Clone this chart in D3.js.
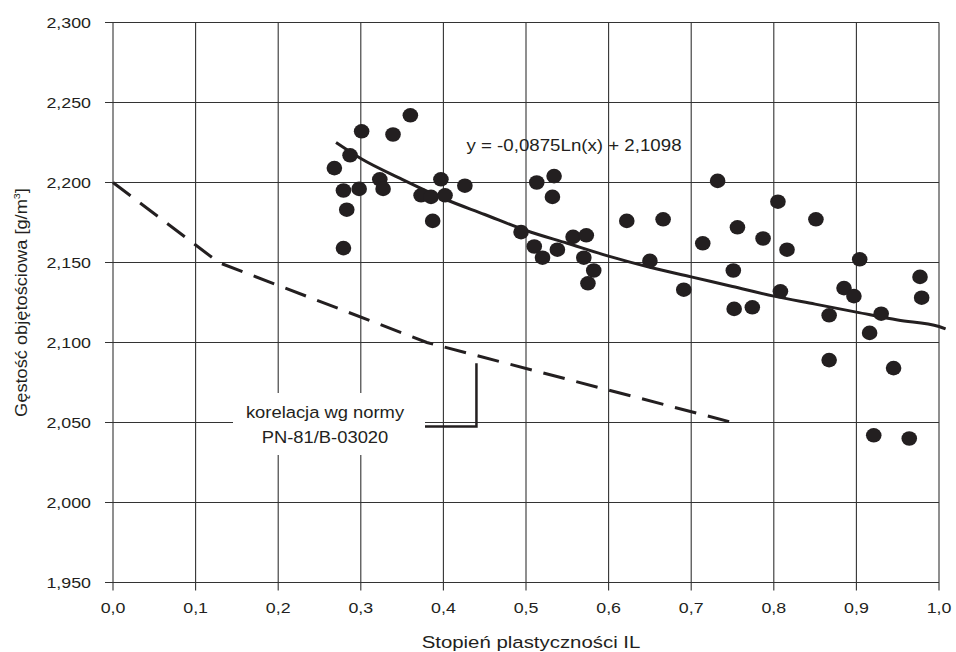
<!DOCTYPE html>
<html>
<head>
<meta charset="utf-8">
<script src="https://cdn.jsdelivr.net/npm/d3@7"></script>
<style>
  body { margin: 0; background: #fff; }
  text { font-family: "Liberation Sans", Arial, sans-serif; fill: #231f20; }
</style>
</head>
<body>
<svg id="viz" width="956" height="652"></svg>
<script>
const svg = d3.select("#viz");
const width = +svg.attr("width");
const height = +svg.attr("height");
const margin = { top: 22.5, right: 17, bottom: 69.5, left: 113 };

// measured points: plasticity index IL vs bulk density
const ilValues = [0.360, 0.301, 0.339, 0.287, 0.268, 0.279, 0.298, 0.323, 0.327, 0.283,
  0.279, 0.373, 0.385, 0.387, 0.397, 0.402, 0.426, 0.513, 0.534, 0.532,
  0.494, 0.510, 0.520, 0.538, 0.557, 0.573, 0.570, 0.582, 0.575, 0.622,
  0.666, 0.650, 0.714, 0.691, 0.732, 0.805, 0.756, 0.787, 0.816, 0.851,
  0.751, 0.752, 0.774, 0.808, 0.867, 0.904, 0.885, 0.897, 0.930, 0.916,
  0.977, 0.979, 0.867, 0.945, 0.921, 0.964];
const densityValues = [2.242, 2.232, 2.230, 2.217, 2.209, 2.195, 2.196, 2.202, 2.196, 2.183,
  2.159, 2.192, 2.191, 2.176, 2.202, 2.192, 2.198, 2.200, 2.204, 2.191,
  2.169, 2.160, 2.153, 2.158, 2.166, 2.167, 2.153, 2.145, 2.137, 2.176,
  2.177, 2.151, 2.162, 2.133, 2.201, 2.188, 2.172, 2.165, 2.158, 2.177,
  2.145, 2.121, 2.122, 2.132, 2.117, 2.152, 2.134, 2.129, 2.118, 2.106,
  2.141, 2.128, 2.089, 2.084, 2.042, 2.040];

// logarithmic trend line
const trendX = [0.27, 0.30, 0.35, 0.40, 0.45, 0.50, 0.55, 0.60, 0.65, 0.70, 0.75, 0.80, 0.85, 0.90, 0.95, 1.00, 1.008];
const trendY = [2.225, 2.215, 2.202, 2.190, 2.180, 2.170, 2.162, 2.154, 2.147, 2.141, 2.135, 2.129, 2.124, 2.119, 2.114, 2.110, 2.1085];

// norm correlation PN-81/B-03020
const normX = [0.0, 0.128, 0.38, 0.75];
const normY = [2.200, 2.150, 2.100, 2.050];

const xTicks = [0, 0.1, 0.2, 0.3, 0.4, 0.5, 0.6, 0.7, 0.8, 0.9, 1.0];
const yTicks = [1.95, 2.0, 2.05, 2.1, 2.15, 2.2, 2.25, 2.3];

const ink = "#231f20";
const comma = s => s.replace(".", ",");

const x = d3.scaleLinear().domain([0, 1]).range([margin.left, width - margin.right]);
const y = d3.scaleLinear().domain([1.95, 2.3]).range([height - margin.bottom, margin.top]);

// the source font runs a bit wider than Arial, so stretch the text along its line
function label(px, py, txt, size, sx, anchor) {
  return svg.append("text")
    .attr("transform", `translate(${px},${py}) scale(${sx},1)`)
    .attr("text-anchor", anchor || "middle")
    .attr("font-size", size + "px")
    .text(txt);
}

// grid
svg.append("g")
  .selectAll("line")
  .data(yTicks)
  .join("line")
  .attr("x1", x(0) - 8).attr("x2", x(1))
  .attr("y1", d => y(d)).attr("y2", d => y(d))
  .attr("stroke", "#333").attr("stroke-width", 1.1);

svg.append("g")
  .selectAll("line")
  .data(xTicks)
  .join("line")
  .attr("x1", d => x(d)).attr("x2", d => x(d))
  .attr("y1", y(2.3)).attr("y2", y(1.95) + 8)
  .attr("stroke", "#333").attr("stroke-width", 1.1);

// tick labels
yTicks.forEach(d => label(x(0) - 22, y(d) + 5.5, comma(d3.format(".3f")(d)), 15.5, 1.15, "end"));
xTicks.forEach(d => label(x(d), y(1.95) + 30, comma(d3.format(".1f")(d)), 15.5, 1.15));

// axis titles
label(531, 648, "Stopień plastyczności IL", 17, 1.2);

const yTitle = svg.append("text")
  .attr("transform", `translate(27,${(y(1.95) + y(2.3)) / 2}) rotate(-90) scale(1.14,1)`)
  .attr("text-anchor", "middle")
  .attr("font-size", "16px");
yTitle.append("tspan").text("Gęstość objętościowa [g/m");
yTitle.append("tspan").attr("font-size", "9.5px").attr("dy", -7).text("3");
yTitle.append("tspan").attr("dy", 7).text("]");

// norm line (dashed)
const normData = normX.map((v, i) => ({ x: v, y: normY[i] }));
svg.append("path")
  .datum(normData)
  .attr("fill", "none")
  .attr("stroke", ink)
  .attr("stroke-width", 3)
  .attr("stroke-dasharray", "22,12")
  .attr("d", d3.line().x(d => x(d.x)).y(d => y(d.y)));

// trend line
const trendData = trendX.map((v, i) => ({ x: v, y: trendY[i] }));
svg.append("path")
  .datum(trendData)
  .attr("fill", "none")
  .attr("stroke", ink)
  .attr("stroke-width", 3)
  .attr("d", d3.line().curve(d3.curveMonotoneX).x(d => x(d.x)).y(d => y(d.y)));

// points
const points = ilValues.map((v, i) => ({ x: v, y: densityValues[i] }));
svg.append("g")
  .selectAll("ellipse")
  .data(points)
  .join("ellipse")
  .attr("cx", d => x(d.x))
  .attr("cy", d => y(d.y))
  .attr("rx", 7.8)
  .attr("ry", 7.3)
  .attr("fill", ink);

// equation
label(574, 151, "y = -0,0875Ln(x) + 2,1098", 17, 1.1);

// annotation box + leader
svg.append("rect")
  .attr("x", 233).attr("y", 393)
  .attr("width", 192).attr("height", 62)
  .attr("fill", "#fff");

svg.append("path")
  .attr("fill", "none")
  .attr("stroke", ink)
  .attr("stroke-width", 2.5)
  .attr("d", `M425,426.5H${x(0.44)}V${y(2.087)}`);

label(325, 418, "korelacja wg normy", 16.7, 1.1);
label(325, 443, "PN-81/B-03020", 16.7, 1.1);
</script>
</body>
</html>
